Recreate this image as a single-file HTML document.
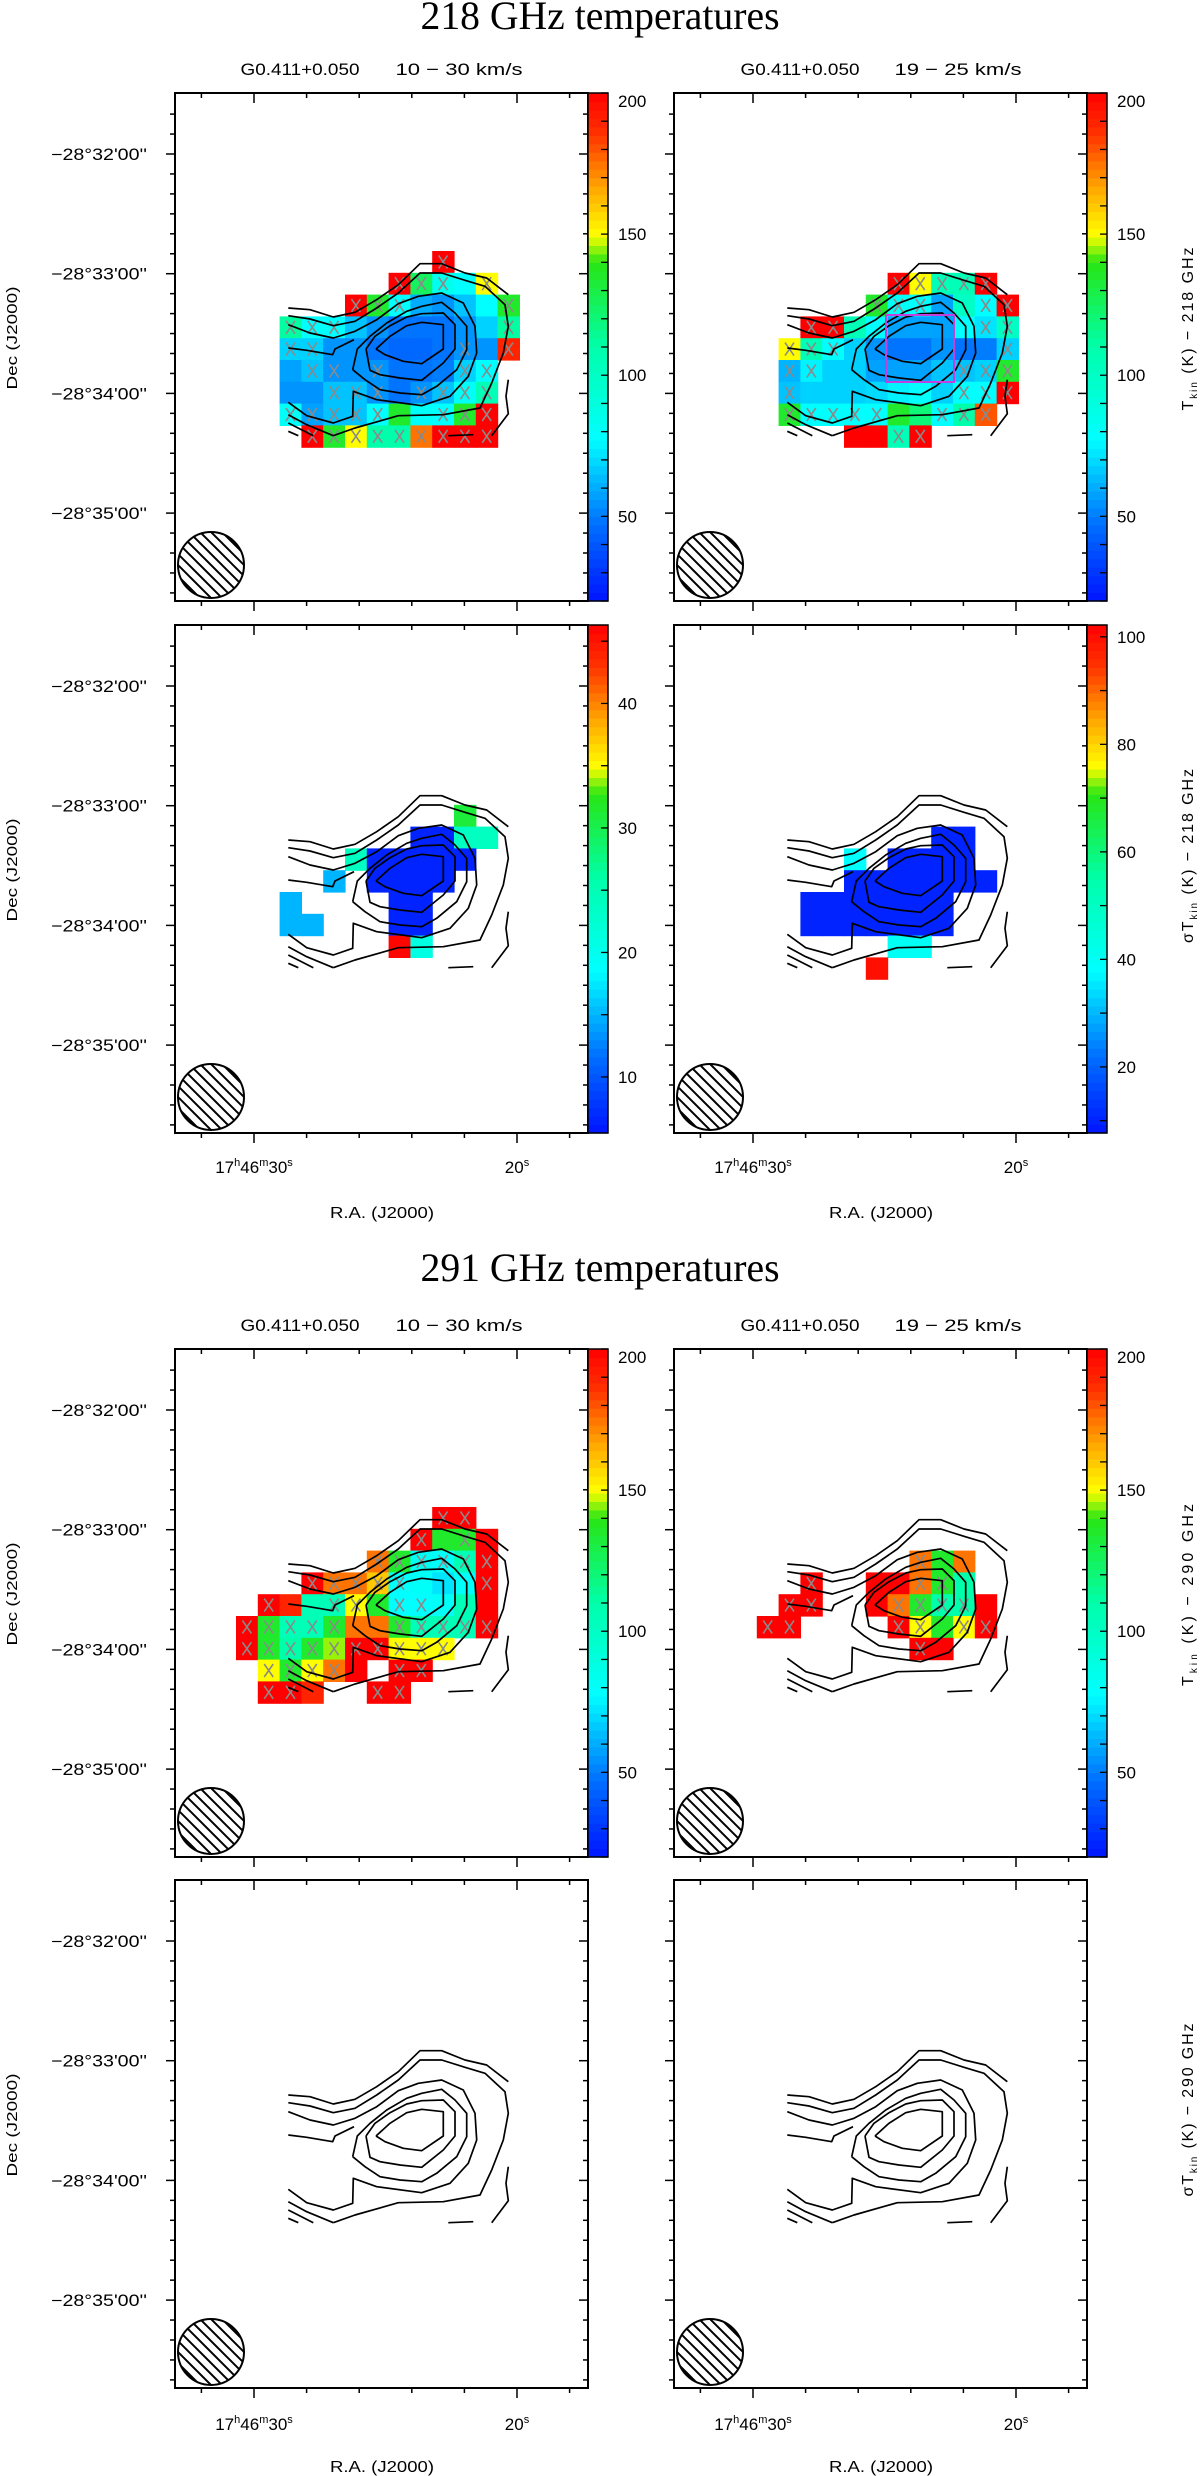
<!DOCTYPE html>
<html><head><meta charset="utf-8"><style>
html,body{margin:0;padding:0;background:#fff;}
svg{display:block;font-family:"Liberation Sans","DejaVu Sans",sans-serif;}
</style></head><body>
<svg id="fig" width="1200" height="2476" viewBox="0 0 1200 2476" xmlns="http://www.w3.org/2000/svg">
<defs>
<clipPath id="beamclip"><circle cx="36" cy="472" r="33"/></clipPath>
<clipPath id="plotclip"><rect x="0" y="0" width="413" height="508"/></clipPath>
</defs>
<text x="600" y="29" text-anchor="middle" font-family="Liberation Serif, serif" font-size="40" textLength="359" lengthAdjust="spacingAndGlyphs">218 GHz temperatures</text>
<text x="600" y="1281" text-anchor="middle" font-family="Liberation Serif, serif" font-size="40" textLength="359" lengthAdjust="spacingAndGlyphs">291 GHz temperatures</text>
<g id="layer"></g>
</svg>
<script>
const N = null;
// Colorbar ranges
const tempRange = [20, 200];
const sig218LeftRange = [5.5, 46.3];
const sig218RightRange = [7.7, 102.2];
const tempTicks = [50, 100, 150, 200];
const sigLeftTicks = [10, 20, 30, 40];
const sigRightTicks = [20, 40, 60, 80, 100];
const decTickLabels = ["\u221228\u00b032'00''", "\u221228\u00b033'00''", "\u221228\u00b034'00''", "\u221228\u00b035'00''"];
const raTickLabels = ["30", "20"];

// Heatmap values (rows r0..r8, columns c0..c12)
const p1Values = [
 [N,N,N,N,N,N,N,N,N,200,N,N,N],
 [N,N,N,N,N,N,N,200,125,85,78,150,N],
 [N,N,N,N,N,200,135,78,60,55,65,78,135],
 [N,N,112,78,78,65,55,48,48,48,55,68,112],
 [N,N,68,68,55,55,48,45,45,48,55,55,190],
 [N,N,58,65,55,55,55,48,48,50,68,78,N],
 [N,N,55,55,65,65,55,48,55,65,80,105,N],
 [N,N,80,58,65,65,78,135,80,78,135,200,N],
 [N,N,N,200,135,150,110,110,175,200,200,200,N]];
const p1Marks = [".........x...",".......xxx.x.",".....xxx....x","..xxx.......x","..xx......x.x","...xx.x...xx.","....xxx.xxxx.","..xxxxx..xxx.","...xxxxxxxxx."];
const p2Values = [
 [N,N,N,N,N,N,N,N,N,N,N,N,N],
 [N,N,N,N,N,N,N,200,150,105,105,200,N],
 [N,N,N,N,N,N,135,80,78,58,100,78,200],
 [N,N,N,200,200,105,78,58,58,58,78,72,100],
 [N,N,150,105,78,68,55,48,48,55,48,50,68],
 [N,N,62,75,68,68,58,58,58,65,65,68,135],
 [N,N,65,68,68,68,70,75,78,68,78,78,200],
 [N,N,135,78,78,78,78,135,120,78,110,180,N],
 [N,N,N,N,N,200,200,105,200,N,N,N,N]];
const p2Marks = [".............",".......xxxxx.","......xxx..xx","...xx......xx","..xxx.......x","..xx......xxx","..x.......xxx","..xxxxx..xxx.",".......xx...."];
const p3Values = [
 [N,N,N,N,N,N,N,N,N,N,N,N,N],
 [N,N,N,N,N,N,N,N,N,N,31,N,N],
 [N,N,N,N,N,N,N,N,6.5,6.5,24,24,N],
 [N,N,N,N,N,24,6.5,6.5,6.5,6.5,6.5,N,N],
 [N,N,N,N,15,N,6.5,6.5,6.5,6.5,N,N,N],
 [N,N,15,N,N,N,N,6.5,6.5,N,N,N,N],
 [N,N,15,15,N,N,N,6.5,6.5,N,N,N,N],
 [N,N,N,N,N,N,N,46,21,N,N,N,N],
 [N,N,N,N,N,N,N,N,N,N,N,N,N]];
const p4Values = [
 [N,N,N,N,N,N,N,N,N,N,N,N,N],
 [N,N,N,N,N,N,N,N,N,N,N,N,N],
 [N,N,N,N,N,N,N,N,N,10,10,N,N],
 [N,N,N,N,N,38,N,10,10,10,10,N,N],
 [N,N,N,N,N,10,10,10,10,10,10,10,N],
 [N,N,N,10,10,10,10,10,10,10,N,N,N],
 [N,N,N,10,10,10,10,10,10,10,N,N,N],
 [N,N,N,N,N,N,N,40,40,N,N,N,N],
 [N,N,N,N,N,N,100,N,N,N,N,N,N]];
const p5Values = [
 [N,N,N,N,N,N,N,N,N,200,200,N,N],
 [N,N,N,N,N,N,N,N,200,135,135,200,N],
 [N,N,N,N,N,N,175,135,82,80,105,200,N],
 [N,N,N,200,175,175,160,78,80,72,80,200,N],
 [N,200,190,105,105,150,135,78,78,80,105,200,N],
 [200,135,105,105,135,175,175,135,105,105,105,200,N],
 [200,135,110,135,145,200,200,150,150,150,N,N,N],
 [N,150,135,150,175,200,N,200,200,N,N,N,N],
 [N,200,200,190,N,N,200,200,N,N,N,N,N]];
const p5Marks = [".........xx..","........x.x..","......xxxxxx.","...xxxxx...x.",".x..xx.xx....","xxxxx..xxxxx.","xxxxxxxxxx...",".xxxx..xx....",".xx...xx....."];
const p6Values = [
 [N,N,N,N,N,N,N,N,N,N,N,N,N],
 [N,N,N,N,N,N,N,N,N,N,N,N,N],
 [N,N,N,N,N,N,N,N,175,135,175,N,N],
 [N,N,N,200,N,N,200,200,175,135,110,N,N],
 [N,N,200,200,N,N,200,175,135,110,110,200,N],
 [N,200,200,N,N,N,N,200,150,135,150,200,N],
 [N,N,N,N,N,N,N,N,200,200,N,N,N]];
const p6Marks = [".............",".............","........x....","...x....xx...","..xx...xxxx..",".xx....xx.xx.","........x...."];

// Contours (digitised in zoom units, converted by the contour scale below)
const contourLines = [
 [[318,318],[360,280],[410,248],[455,238],[520,245],[520,318],[455,362],[400,355],[345,335],[318,318]],
 [[288,318],[315,280],[360,248],[410,222],[455,212],[520,210],[555,245],[555,318],[520,360],[455,412],[390,405],[330,395],[300,382],[288,318]],
 [[248,380],[262,318],[300,280],[350,240],[410,205],[455,190],[515,178],[555,210],[590,250],[590,320],[560,380],[500,430],[455,455],[390,450],[330,440],[285,410],[248,380]],
 [[55,245],[120,270],[190,285],[255,265],[320,230],[385,182],[445,160],[515,150],[580,180],[615,250],[620,330],[595,400],[540,460],[455,488],[320,470],[250,445],[248,520],[190,540],[110,518],[55,478]],
 [[55,315],[110,322],[188,335],[195,318],[252,290]],
 [[55,218],[120,228],[190,248],[255,235],[320,195],[385,150],[450,90],[515,90],[585,112],[645,130],[705,185],[715,250],[700,330],[665,420],[630,495],[520,515],[385,518],[255,555],[190,578]],
 [[55,195],[120,200],[190,222],[255,208],[320,170],[385,125],[450,62],[515,62],[585,90],[650,105],[715,155]],
 [[715,410],[708,460],[715,512],[665,578]],
 [[535,578],[610,575]],
 [[55,515],[110,545],[190,578]],
 [[55,540],[130,578]],
 [[55,565],[85,578]]];

const SVGNS = "http://www.w3.org/2000/svg";
const layer = document.getElementById('layer');
const PW = 413, PH = 508, CELL = 21.8, GX0 = 61, GY0 = 158;
const DEC_Y0 = 61, DEC_STEP = 119.7;
const RA_X30 = 79, RA_STEP = 26.3;

function mk(tag, attrs, parent) {
  const e = document.createElementNS(SVGNS, tag);
  for (const k in attrs) e.setAttribute(k, attrs[k]);
  (parent || layer).appendChild(e);
  return e;
}
const stops = [[0,[0,20,255]],[0.15,[0,110,255]],[0.32,[0,255,255]],[0.5,[0,255,170]],[0.667,[40,230,20]],[0.72,[255,255,0]],[0.82,[255,160,0]],[0.92,[255,50,0]],[1,[255,0,0]]];
function cmap(t) {
  t = Math.max(0, Math.min(1, t));
  for (let i = 1; i < stops.length; i++) {
    if (t <= stops[i][0]) {
      const a = stops[i-1], b = stops[i], f = (t - a[0]) / (b[0] - a[0]);
      const c = a[1].map((v, j) => Math.round(v + (b[1][j] - v) * f));
      return 'rgb(' + c.join(',') + ')';
    }
  }
  return 'rgb(255,0,0)';
}
function colX(c) { return GX0 + c * CELL; }
function rowY(r) { return GY0 + r * CELL; }
function decY(i) { return DEC_Y0 + i * DEC_STEP; }
function raX(sec) { return RA_X30 + (30 - sec) * RA_STEP; }
function cX(zx) { return 95 + zx / 3; }
function cY(zy) { return 150 + zy / 3; }

function panel(px, py, opts) {
  const g = mk('g', {transform: 'translate(' + px + ',' + py + ')'});
  
  
  const plot = mk('g', {'clip-path': 'url(#plotclip)'}, g);
  
  
  if (opts.values) {
    const rng = opts.range;
    opts.values.forEach((row, r) => row.forEach((v, c) => {
      if (v === null) return;
      const cell = mk('rect', {x: colX(c).toFixed(2), y: rowY(r).toFixed(2), width: CELL + 0.6, height: CELL + 0.6, fill: cmap((v - rng[0]) / (rng[1] - rng[0]))}, plot);
      
      
    }));
  }
  if (opts.marks) {
    opts.marks.forEach((s, r) => { for (let c = 0; c < s.length; c++) if (s[c] === 'x') {
      const x = colX(c) + CELL / 2, y = rowY(r) + CELL / 2;
      const m = mk('path', {d: 'M' + (x-4.5) + ',' + (y-6.5) + 'L' + (x+4.5) + ',' + (y+6.5) + 'M' + (x+4.5) + ',' + (y-6.5) + 'L' + (x-4.5) + ',' + (y+6.5), stroke: '#8a8a8a', 'stroke-width': 1.6, fill: 'none'}, plot);
      
      
    }});
  }
  contourLines.forEach(line => {
    const pl = mk('polyline', {points: line.map(p => cX(p[0]).toFixed(1) + ',' + cY(p[1]).toFixed(1)).join(' '), fill: 'none', stroke: '#000', 'stroke-width': 1.7, 'stroke-linejoin': 'round'}, plot);
    
    
  });
  if (opts.box) {
    const b = mk('rect', {x: 212, y: 222, width: 68, height: 67, fill: 'none', stroke: '#c040e0', 'stroke-width': 2}, plot);
    
    
  }
  const beam = mk('g', {}, g);
  
  
  const hatch = mk('g', {'clip-path': 'url(#beamclip)'}, beam);
  for (let k = -7; k <= 7; k++) {
    const o = k * 11;
    mk('line', {x1: 36 - 40 + o, y1: 472 - 40, x2: 36 + 40 + o, y2: 472 + 40, stroke: '#000', 'stroke-width': 2}, hatch);
  }
  mk('circle', {cx: 36, cy: 472, r: 33, fill: 'none', stroke: '#000', 'stroke-width': 2}, beam);
  const fr = mk('rect', {x: 0, y: 0, width: PW, height: PH, fill: 'none', stroke: '#000', 'stroke-width': 2}, g);
  
  
  for (let i = -1; i <= 4; i++) for (let k = 0; k < 6; k++) {
    const y = decY(i) + k * DEC_STEP / 6;
    if (y < 2 || y > PH - 2) continue;
    const L = k === 0 ? 9 : 5;
    mk('line', {x1: -L, y1: y, x2: 0, y2: y, stroke: '#000', 'stroke-width': 1.5}, g);
    mk('line', {x1: PW - L, y1: y, x2: PW, y2: y, stroke: '#000', 'stroke-width': 1.5}, g);
  }
  for (let s = 32; s >= 16; s -= 2) {
    const x = raX(s);
    if (x < 2 || x > PW - 2) continue;
    const L = (s === 30 || s === 20) ? 10 : 5;
    mk('line', {x1: x, y1: 0, x2: x, y2: L, stroke: '#000', 'stroke-width': 1.5}, g);
    mk('line', {x1: x, y1: PH, x2: x, y2: PH + L, stroke: '#000', 'stroke-width': 1.5}, g);
  }
  if (opts.decLabels) {
    decTickLabels.forEach((t, i) => {
      const tl = mk('text', {x: -28, y: decY(i) + 6, 'text-anchor': 'end', 'font-size': 16.5, textLength: 96, lengthAdjust: 'spacingAndGlyphs'}, g);
      tl.textContent = t;
      
      
    });
  }
  if (opts.colorbar) {
    const cbg = mk('g', {transform: 'translate(' + PW + ',0)'}, g);
    
    
    const rng = opts.range;
    const n = 60;
    for (let i = 0; i < n; i++) {
      const v0 = rng[0] + (rng[1] - rng[0]) * (i + 0.5) / n;
      mk('rect', {x: 0, y: (PH - (i + 1) * PH / n).toFixed(2), width: 20, height: (PH / n + 0.6).toFixed(2), fill: cmap((v0 - rng[0]) / (rng[1] - rng[0]))}, cbg);
    }
    mk('rect', {x: 0, y: 0, width: 20, height: PH, fill: 'none', stroke: '#000', 'stroke-width': 1.5}, cbg);
    const yv = v => PH - (v - rng[0]) / (rng[1] - rng[0]) * PH;
    for (let v = Math.ceil(rng[0] / opts.minor) * opts.minor; v <= rng[1]; v += opts.minor) {
      const y = yv(v);
      mk('line', {x1: 13, y1: y, x2: 20, y2: y, stroke: '#000', 'stroke-width': 1.3}, cbg);
    }
    opts.ticks.forEach(v => {
      const lab = mk('text', {x: 30, y: Math.max(yv(v) + 6, 14), 'font-size': 17}, cbg);
      lab.textContent = String(v);
      
      
    });
  }
  return g;
}
function txt(x, y, s, size, len, name, rot) {
  const t = mk('text', {x: x, y: y, 'text-anchor': 'middle', 'font-size': size});
  if (len) { t.setAttribute('textLength', len); t.setAttribute('lengthAdjust', 'spacingAndGlyphs'); }
  if (rot) t.setAttribute('transform', 'rotate(-90 ' + x + ' ' + y + ')');
  t.textContent = s;
  
  
  return t;
}
function kinLabel(x, yc, sigma, freq, len) {
  const t = mk('text', {x: x, y: yc, 'text-anchor': 'middle', 'font-size': 16, transform: 'rotate(-90 ' + x + ' ' + yc + ')', textLength: len, lengthAdjust: 'spacing'});
  
  
  const a = mk('tspan', {}, t); a.textContent = (sigma ? '\u03c3T' : 'T');
  const b = mk('tspan', {'font-size': 10, dy: 4}, t); b.textContent = 'kin';
  const c = mk('tspan', {dy: -4}, t); c.textContent = '  (K)  \u2212  ' + freq + ' GHz';
}
function raLabels(px, by) {
  const t = mk('text', {x: px + raX(30), y: by, 'text-anchor': 'middle', 'font-size': 17});
  
  
  const parts = [['17', 0], ['h', 1], ['46', 0], ['m', 1], [raTickLabels[0], 0], ['s', 1]];
  parts.forEach(p => { const s = mk('tspan', p[1] ? {'font-size': 11, dy: -7} : {dy: 0}, t); s.textContent = p[0]; if (p[1]) { s.setAttribute('data-sup', '1'); } });
  [...t.children].forEach((s, i) => { if (i > 0 && !s.getAttribute('data-sup')) s.setAttribute('dy', 7); });
  const t2 = mk('text', {x: px + raX(20), y: by, 'text-anchor': 'middle', 'font-size': 17});
  
  
  const a = mk('tspan', {}, t2); a.textContent = raTickLabels[1];
  const b = mk('tspan', {'font-size': 11, dy: -7}, t2); b.textContent = 's';
}

const LX = 175, RX = 674, ROWS = [93, 625, 1349, 1880];
panel(LX, ROWS[0], {name: 'panel-218-tkin-wide', values: p1Values, marks: p1Marks, range: tempRange, colorbar: true, ticks: tempTicks, minor: 10, decLabels: true});
panel(RX, ROWS[0], {name: 'panel-218-tkin-narrow', values: p2Values, marks: p2Marks, range: tempRange, colorbar: true, ticks: tempTicks, minor: 10, box: true});
panel(LX, ROWS[1], {name: 'panel-218-sigma-wide', values: p3Values, range: sig218LeftRange, colorbar: true, ticks: sigLeftTicks, minor: 5, decLabels: true});
panel(RX, ROWS[1], {name: 'panel-218-sigma-narrow', values: p4Values, range: sig218RightRange, colorbar: true, ticks: sigRightTicks, minor: 10});
panel(LX, ROWS[2], {name: 'panel-291-tkin-wide', values: p5Values, marks: p5Marks, range: tempRange, colorbar: true, ticks: tempTicks, minor: 10, decLabels: true});
panel(RX, ROWS[2], {name: 'panel-291-tkin-narrow', values: p6Values, marks: p6Marks, range: tempRange, colorbar: true, ticks: tempTicks, minor: 10});
panel(LX, ROWS[3], {name: 'panel-291-sigma-wide', decLabels: true});
panel(RX, ROWS[3], {name: 'panel-291-sigma-narrow'});

[[75], [1331]].forEach(([y]) => {
  txt(300, y, 'G0.411+0.050', 17, 119, 'panel-subtitle');
  txt(459, y, '10 \u2212 30 km/s', 17, 127, 'panel-subtitle');
  txt(800, y, 'G0.411+0.050', 17, 119, 'panel-subtitle');
  txt(958, y, '19 \u2212 25 km/s', 17, 127, 'panel-subtitle');
});
ROWS.forEach(y => txt(17, y + 245, 'Dec (J2000)', 15, 103, 'y-axis-title', true));
kinLabel(1193, 329, false, '218', 163);
kinLabel(1193, 856, true, '218', 174);
kinLabel(1193, 1595, false, '290', 182);
kinLabel(1193, 2110, true, '290', 173);
raLabels(LX, 1173); raLabels(RX, 1173);
raLabels(LX, 2430); raLabels(RX, 2430);
txt(382, 1218, 'R.A. (J2000)', 16, 104, 'x-axis-title');
txt(881, 1218, 'R.A. (J2000)', 16, 104, 'x-axis-title');
txt(382, 2472, 'R.A. (J2000)', 16, 104, 'x-axis-title');
txt(881, 2472, 'R.A. (J2000)', 16, 104, 'x-axis-title');
</script>
</body></html>
